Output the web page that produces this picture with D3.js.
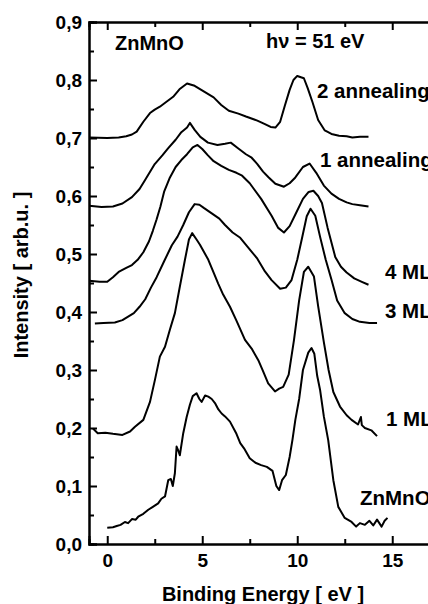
<!DOCTYPE html>
<html>
<head>
<meta charset="utf-8">
<script src="https://cdn.jsdelivr.net/npm/d3@7"></script>
<style>
  body { margin: 0; background: #fff; }
  svg { display: block; }
  text { font-family: Arial, "Liberation Sans", sans-serif; font-weight: bold; fill: #000; }
</style>
</head>
<body>
<div id="view"></div>
<script>
var width = 428, height = 604;

// tick values
var xMajor = [0, 5, 10, 15];
var xMinor = [2.5, 7.5, 12.5];
var yMajor = [0, 0.1, 0.2, 0.3, 0.4, 0.5, 0.6, 0.7, 0.8, 0.9];
var yMinor = [0.05, 0.15, 0.25, 0.35, 0.45, 0.55, 0.65, 0.75, 0.85];

// spectra [binding energy eV, intensity]
var ann2 = [[-0.95,0.701],[0,0.700],[0.6,0.701],[1.0,0.703],[1.3,0.706],[1.55,0.711],[1.9,0.728],[2.25,0.743],[2.5,0.749],[2.77,0.754],[3.1,0.762],[3.47,0.771],[3.8,0.784],[4.2,0.794],[4.6,0.790],[5.1,0.780],[5.6,0.770],[6.0,0.757],[6.4,0.747],[6.9,0.742],[7.3,0.737],[7.9,0.730],[8.3,0.724],[8.6,0.719],[8.85,0.718],[9.1,0.728],[9.35,0.756],[9.6,0.783],[9.8,0.800],[10.0,0.807],[10.35,0.803],[10.55,0.786],[10.8,0.762],[11.1,0.731],[11.45,0.713],[11.8,0.707],[12.2,0.704],[12.6,0.703],[12.9,0.701],[13.3,0.702],[13.75,0.702]];
var ann1 = [[-0.95,0.583],[-0.3,0.581],[0.3,0.582],[0.8,0.587],[1.3,0.598],[1.7,0.612],[2.0,0.628],[2.5,0.655],[2.9,0.670],[3.2,0.682],[3.6,0.697],[3.9,0.710],[4.2,0.718],[4.35,0.726],[4.6,0.714],[4.9,0.702],[5.3,0.692],[5.8,0.688],[6.2,0.690],[6.5,0.692],[6.9,0.682],[7.3,0.672],[7.6,0.666],[7.9,0.655],[8.2,0.642],[8.5,0.632],[8.85,0.621],[9.3,0.616],[9.6,0.622],[9.9,0.632],[10.3,0.650],[10.65,0.656],[11.0,0.640],[11.4,0.618],[11.8,0.604],[12.2,0.595],[12.6,0.589],[12.9,0.586],[13.3,0.584],[13.75,0.582]];
var ml4 = [[-0.95,0.454],[-0.4,0.452],[0.0,0.452],[0.3,0.460],[0.6,0.469],[1.0,0.476],[1.3,0.481],[1.6,0.490],[1.9,0.503],[2.2,0.522],[2.4,0.540],[2.6,0.560],[2.8,0.582],[3.0,0.608],[3.3,0.632],[3.6,0.650],[3.9,0.662],[4.2,0.672],[4.5,0.684],[4.75,0.688],[5.0,0.681],[5.3,0.670],[5.6,0.660],[6.0,0.652],[6.4,0.645],[6.8,0.640],[7.1,0.635],[7.5,0.622],[8.1,0.595],[8.65,0.566],[9.0,0.545],[9.3,0.537],[9.6,0.548],[9.9,0.568],[10.3,0.595],[10.6,0.607],[10.85,0.609],[11.1,0.600],[11.3,0.588],[11.6,0.545],[12.0,0.495],[12.3,0.478],[12.6,0.468],[13.0,0.458],[13.4,0.452],[13.75,0.447]];
var ml3 = [[-0.65,0.380],[-0.2,0.381],[0.4,0.382],[0.8,0.386],[1.1,0.392],[1.4,0.398],[1.7,0.409],[2.0,0.422],[2.3,0.442],[2.6,0.460],[3.0,0.488],[3.4,0.515],[3.7,0.530],[4.0,0.550],[4.3,0.572],[4.6,0.586],[4.85,0.585],[5.1,0.579],[5.5,0.570],[5.9,0.561],[6.2,0.550],[6.6,0.537],[7.0,0.528],[7.4,0.512],[7.9,0.492],[8.3,0.470],[8.65,0.455],[9.1,0.440],[9.4,0.442],[9.7,0.455],[10.0,0.490],[10.25,0.527],[10.5,0.565],[10.7,0.578],[10.95,0.566],[11.2,0.530],[11.5,0.490],[11.8,0.456],[12.1,0.420],[12.5,0.398],[12.9,0.388],[13.3,0.383],[13.8,0.381],[14.2,0.381]];
var ml1 = [[-0.75,0.199],[-0.5,0.191],[-0.1,0.192],[0.3,0.190],[0.8,0.188],[1.2,0.194],[1.46,0.202],[1.9,0.214],[2.25,0.245],[2.51,0.283],[2.77,0.323],[3.04,0.340],[3.3,0.370],[3.56,0.398],[3.8,0.440],[4.09,0.490],[4.3,0.525],[4.47,0.536],[4.7,0.525],[4.88,0.516],[5.1,0.503],[5.32,0.490],[5.6,0.468],[5.84,0.449],[6.1,0.430],[6.46,0.409],[6.8,0.385],[7.25,0.352],[7.6,0.337],[7.95,0.317],[8.2,0.298],[8.47,0.277],[8.83,0.263],[9.05,0.268],[9.26,0.271],[9.55,0.292],[9.83,0.352],[10.1,0.420],[10.35,0.469],[10.58,0.478],[10.88,0.461],[11.1,0.410],[11.4,0.348],[11.65,0.300],[11.9,0.262],[12.25,0.237],[12.6,0.222],[12.86,0.214],[13.2,0.206],[13.35,0.219],[13.4,0.205],[13.56,0.200],[13.9,0.196],[14.2,0.186]];
var znmno = [[0.0,0.028],[0.3,0.029],[0.5,0.031],[0.7,0.033],[0.93,0.038],[1.1,0.036],[1.3,0.043],[1.5,0.042],[1.63,0.047],[1.9,0.052],[2.16,0.059],[2.4,0.064],[2.68,0.070],[2.85,0.078],[3.04,0.082],[3.15,0.100],[3.21,0.110],[3.35,0.112],[3.45,0.100],[3.56,0.122],[3.65,0.168],[3.75,0.160],[3.82,0.153],[4.0,0.191],[4.18,0.219],[4.35,0.240],[4.5,0.255],[4.7,0.260],[4.85,0.250],[4.97,0.245],[5.15,0.256],[5.32,0.254],[5.5,0.250],[5.67,0.243],[5.85,0.232],[6.02,0.225],[6.2,0.220],[6.46,0.211],[6.8,0.190],[7.0,0.174],[7.2,0.165],[7.5,0.148],[7.8,0.140],[8.1,0.136],[8.4,0.133],[8.7,0.126],[8.9,0.100],[9.05,0.093],[9.2,0.110],[9.4,0.119],[9.6,0.150],[9.75,0.180],[9.9,0.214],[10.1,0.250],[10.3,0.300],[10.58,0.330],[10.75,0.338],[10.9,0.328],[11.05,0.290],[11.2,0.266],[11.4,0.220],[11.63,0.179],[11.9,0.110],[12.16,0.064],[12.5,0.045],[12.86,0.038],[13.1,0.030],[13.3,0.036],[13.56,0.033],[13.8,0.040],[14.0,0.032],[14.2,0.042],[14.44,0.030],[14.6,0.040],[14.75,0.045]];

var series = [ann2, ann1, ml4, ml3, ml1, znmno];

// text labels
var curveLabels = [
  { t: "2 annealing", x: 317, y: 98 },
  { t: "1 annealing", x: 320, y: 167 },
  { t: "4 ML", x: 385, y: 279 },
  { t: "3 ML", x: 385, y: 318 },
  { t: "1 ML", x: 386, y: 426 },
  { t: "ZnMnO", x: 360, y: 505 }
];

var locale = d3.formatLocale({ decimal: ",", thousands: ".", grouping: [3], currency: ["", ""] });
var yFmt = locale.format(".1f");

var x = d3.scaleLinear().domain([-0.96, 17]).range([89, 89 + 17.96 * 19]);
var y = d3.scaleLinear().domain([0, 0.9]).range([544, 22]);

var svg = d3.select("#view").append("svg")
  .attr("width", width)
  .attr("height", height);

function styleAxis(g) {
  g.select(".domain").attr("stroke", "#000").attr("stroke-width", 2);
  g.selectAll(".tick line").attr("stroke", "#000").attr("stroke-width", 2);
  g.selectAll(".tick text").style("font-size", "19px").style("font-family", "Arial, 'Liberation Sans', sans-serif").style("font-weight", "bold");
}

// left axis
svg.append("g").attr("transform", "translate(" + x(-0.96) + ",0)")
  .call(d3.axisLeft(y).tickValues(yMinor).tickSize(-5).tickFormat("")).call(styleAxis);
svg.append("g").attr("transform", "translate(" + x(-0.96) + ",0)")
  .call(d3.axisLeft(y).tickValues(yMajor).tickSize(-8).tickPadding(7).tickFormat(yFmt)).call(styleAxis);

// bottom axis
svg.append("g").attr("transform", "translate(0," + y(0) + ")")
  .call(d3.axisBottom(x).tickValues(xMinor).tickSize(-5).tickFormat("")).call(styleAxis);
svg.append("g").attr("transform", "translate(0," + y(0) + ")")
  .call(d3.axisBottom(x).tickValues(xMajor).tickSize(-8).tickPadding(10).tickFormat(d3.format("d"))).call(styleAxis);

// top axis
svg.append("g").attr("transform", "translate(0," + y(0.9) + ")")
  .call(d3.axisTop(x).tickValues(xMinor).tickSize(-5).tickFormat("")).call(styleAxis);
svg.append("g").attr("transform", "translate(0," + y(0.9) + ")")
  .call(d3.axisTop(x).tickValues(xMajor).tickSize(-8).tickFormat("")).call(styleAxis);

var line = d3.line()
  .x(function(d) { return x(d[0]); })
  .y(function(d) { return y(d[1]); });

svg.selectAll(".spec")
  .data(series).enter()
  .append("path")
  .attr("class", "spec")
  .attr("d", line)
  .attr("fill", "none")
  .attr("stroke", "#000")
  .attr("stroke-width", 2)
  .attr("stroke-linejoin", "round");

svg.selectAll(".lab")
  .data(curveLabels).enter()
  .append("text")
  .attr("class", "lab")
  .attr("x", function(d) { return d.x; })
  .attr("y", function(d) { return d.y; })
  .style("font-size", "20.5px")
  .text(function(d) { return d.t; });

svg.append("text").attr("x", 115).attr("y", 50).style("font-size", "20px").text("ZnMnO");
svg.append("text").attr("x", 266).attr("y", 48).style("font-size", "20px").text("h\u03bd = 51 eV");

// axis titles
svg.append("text")
  .attr("x", 263).attr("y", 601)
  .attr("text-anchor", "middle")
  .style("font-size", "20px")
  .text("Binding Energy [ eV ]");

svg.append("text")
  .attr("transform", "translate(28,275) rotate(-90)")
  .attr("text-anchor", "middle")
  .style("font-size", "20px")
  .text("Intensity [ arb.u. ]");
</script>
</body>
</html>
